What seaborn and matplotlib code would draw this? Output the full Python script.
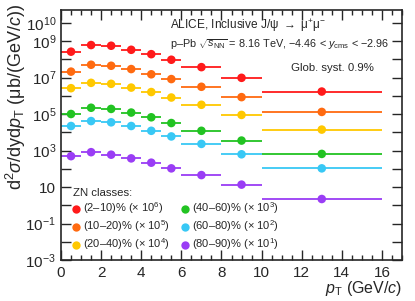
import numpy as np
import pandas as pd
import matplotlib
matplotlib.use("Agg")
import matplotlib.pyplot as plt
from matplotlib.lines import Line2D
from matplotlib.ticker import FixedLocator, MultipleLocator
import seaborn as sns

# pT bins (GeV/c)
pt_lo = [0, 1, 2, 3, 4, 5, 6, 8, 10]
pt_hi = [1, 2, 3, 4, 5, 6, 8, 10, 16]
pt_mid = [0.5, 1.5, 2.5, 3.5, 4.5, 5.5, 7, 9, 13]

classes = ["(2–10)%", "(10–20)%", "(20–40)%", "(40–60)%", "(60–80)%", "(80–90)%"]
scales = ["6", "5", "4", "3", "2", "1"]
colors = ["#ff1a1a", "#ff6a10", "#ffc800", "#22c322", "#38c8f5", "#9a3df5"]

# scaled cross sections
xs_2_10 = [2.6e8, 6.0e8, 5.5e8, 3.3e8, 1.9e8, 9.4e7, 3.7e7, 9.6e6, 1.7e6]
xs_10_20 = [2.1e7, 5.0e7, 4.4e7, 2.9e7, 1.5e7, 8.2e6, 3.1e6, 8.4e5, 1.3e5]
xs_20_40 = [2.6e6, 5.1e6, 4.5e6, 2.8e6, 1.6e6, 8.0e5, 3.2e5, 8.9e4, 1.4e4]
xs_40_60 = [1.0e5, 2.2e5, 1.9e5, 1.2e5, 6.6e4, 3.2e4, 1.2e4, 3.5e3, 6.5e2]
xs_60_80 = [2.2e4, 4.1e4, 3.5e4, 2.2e4, 1.2e4, 5.9e3, 2.3e3, 6.2e2, 1.05e2]
xs_80_90 = [4.9e2, 8.1e2, 5.9e2, 3.7e2, 2.15e2, 1.05e2, 45, 13.5, 2.2]

series = [xs_2_10, xs_10_20, xs_20_40, xs_40_60, xs_60_80, xs_80_90]

rows = []
for cls, vals in zip(classes, series):
    for lo, hi, mid, v in zip(pt_lo, pt_hi, pt_mid, vals):
        rows.append({"cls": cls, "lo": lo, "hi": hi, "pt": mid, "xs": v})
df = pd.DataFrame(rows)

sns.set_style("ticks")
plt.rcParams["font.family"] = ["Liberation Sans", "DejaVu Sans"]
plt.rcParams["mathtext.fontset"] = "custom"
plt.rcParams["mathtext.rm"] = "Liberation Sans"
plt.rcParams["mathtext.it"] = "Liberation Sans:italic"
plt.rcParams["mathtext.sf"] = "Liberation Sans"

fig = plt.figure(figsize=(4.15, 3.01), dpi=100)
ax = fig.add_axes([61 / 415, 1 - 260 / 301, 341 / 415, 250 / 301])

palette = dict(zip(classes, colors))
for cls in classes:
    sub = df[df["cls"] == cls]
    ax.hlines(sub["xs"], sub["lo"], sub["hi"], color=palette[cls], lw=1.3, zorder=2)
sns.scatterplot(data=df, x="pt", y="xs", hue="cls", palette=palette, s=38,
                edgecolor="none", legend=False, ax=ax, zorder=3)

ax.set_yscale("log")
ax.set_xlim(0, 17)
ax.set_ylim(1e-3, 5e10)

ax.xaxis.set_major_locator(MultipleLocator(2))
ax.xaxis.set_minor_locator(MultipleLocator(0.5))
ax.yaxis.set_major_locator(FixedLocator([10.0 ** k for k in range(-3, 11)]))
ax.yaxis.set_minor_locator(FixedLocator([]))
labels = {-3: r"$10^{-3}$", -1: r"$10^{-1}$", 1: "10", 3: r"$10^{3}$",
          5: r"$10^{5}$", 7: r"$10^{7}$", 9: r"$10^{9}$", 10: r"$10^{10}$"}
ax.set_yticklabels([labels.get(k, "") for k in range(-3, 11)])
ax.tick_params(which="both", direction="in", top=True, right=True, labelsize=11, width=1)
ax.tick_params(which="major", length=7)
ax.tick_params(which="minor", length=3.5)
ax.tick_params(axis="x", pad=4)
for s in ax.spines.values():
    s.set_linewidth(1.2)

ax.set_xlabel("")
ax.set_ylabel("")
fig.text(402 / 415, 1 - 289 / 301, r"$p_{\rm T}$ (GeV/$c$)", ha="right", va="center", fontsize=11.5)
fig.text(16 / 415, 1 - 4 / 301, r"d$^{2}\sigma$/dyd$p_{\rm T}$ (μb/(GeV/$c$))",
         rotation=90, ha="center", va="top", fontsize=13)

fig.text(170 / 415, 1 - 26 / 301, r"ALICE, Inclusive J/ψ $\rightarrow$ μ$^{+}$μ$^{-}$", fontsize=8.6, va="center")
fig.text(170 / 415, 1 - 44 / 301,
         r"p–Pb $\sqrt{s_{\rm NN}}$ = 8.16 TeV, −4.46 < $y_{\rm cms}$ < −2.96",
         fontsize=7.8, va="center")
fig.text(291 / 415, 1 - 68 / 301, "Glob. syst. 0.9%", fontsize=8.2, va="center")

handles = [Line2D([], [], ls="none", marker="o", ms=6, mec="none", color=c) for c in colors]
leg_labels = [f"{c} ($\\times$ 10$^{{{s}}}$)" for c, s in zip(classes, scales)]
leg = ax.legend(handles, leg_labels, ncol=2, title="ZN classes:", alignment="left",
                frameon=False, fontsize=8, title_fontsize=8.2, loc="lower left",
                bbox_to_anchor=(0.035, 0.03), handlelength=0.6, handletextpad=0.35,
                columnspacing=1.0, labelspacing=0.2, borderaxespad=0, borderpad=0)

fig.savefig("out.png", dpi=100)
